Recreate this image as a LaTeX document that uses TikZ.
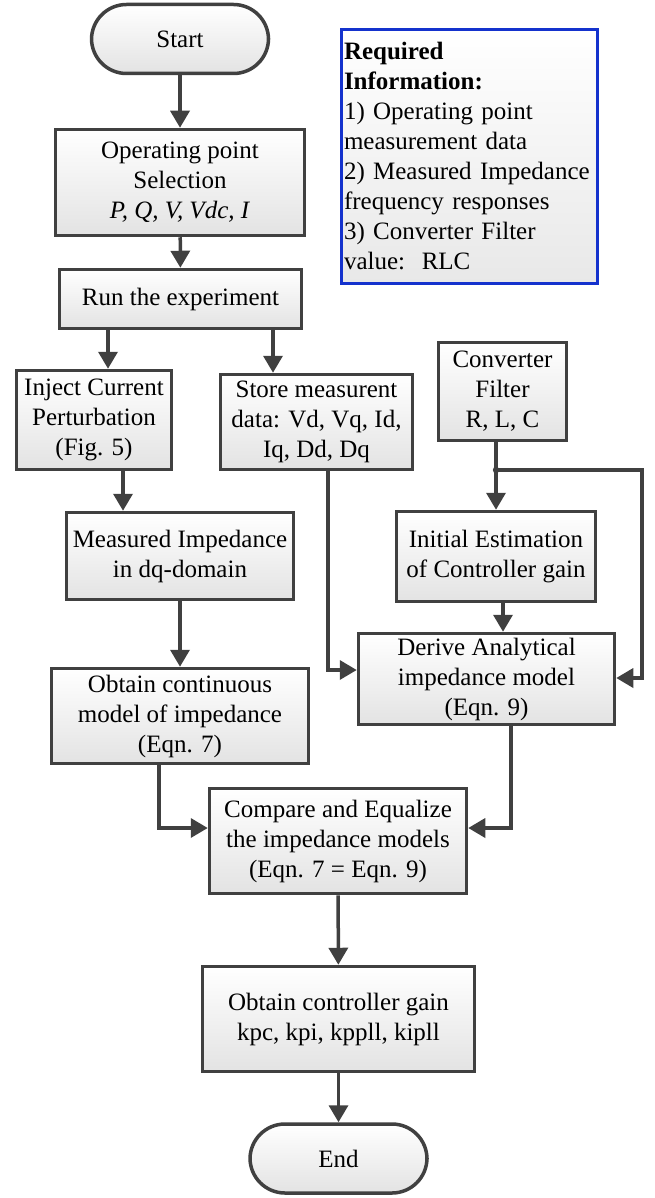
\documentclass[tikz,border=0pt]{standalone}
\usepackage{fontspec}
\setmainfont{Liberation Serif}
\usetikzlibrary{arrows.meta,calc}
\definecolor{edgegray}{RGB}{64,64,64}
\definecolor{infoblue}{RGB}{20,50,205}
\begin{document}
\begin{tikzpicture}[x=1pt,y=-1pt,
  every node/.style={font=\fontsize{25}{30}\selectfont},
  stepbox/.style={draw=edgegray, line width=3.5pt, top color=white, bottom color=black!11,
    align=center, inner sep=2pt, rectangle},
  conn/.style={draw=edgegray, line width=3.5pt},
  arr/.style={conn, -{Triangle[length=17pt,width=19pt]}},
]
\useasboundingbox (0,0) rectangle (655,1198);

% terminals (drawn as rounded rectangles)
\node[stepbox, rounded corners=35pt, minimum width=177pt, minimum height=69pt] (start) at (180,39) {Start};
\node[stepbox, rounded corners=35pt, minimum width=177pt, minimum height=69pt] (end) at (338.5,1158.5) {End};

% process boxes
\node[stepbox, minimum width=249pt, minimum height=106pt] (op) at (180,182.5)
  {Operating point\\Selection\\\textit{P, Q, V, Vdc, I}};
\node[stepbox, minimum width=242pt, minimum height=59pt] (run) at (180.5,299) {Run the experiment};
\node[stepbox, minimum width=155pt, minimum height=99pt] (inject) at (94,420)
  {Inject Current\\Perturbation\\(Fig. 5)};
\node[stepbox, minimum width=192pt, minimum height=95pt] (store) at (316.5,422)
  {Store measurent\\data: Vd, Vq, Id,\\Iq, Dd, Dq};
\node[stepbox, minimum width=128pt, minimum height=98pt] (conv) at (502.5,391.5)
  {Converter\\Filter\\R, L, C};
\node[stepbox, minimum width=227pt, minimum height=87pt] (meas) at (180,556)
  {Measured Impedance\\in dq-domain};
\node[stepbox, minimum width=199pt, minimum height=90pt] (init) at (496,556.5)
  {Initial Estimation\\of Controller gain};
\node[stepbox, minimum width=257pt, minimum height=95pt] (cont) at (180,716)
  {Obtain continuous\\model of impedance\\(Eqn. 7)};
\node[stepbox, minimum width=256pt, minimum height=91pt] (derive) at (486.5,679)
  {Derive Analytical\\impedance model\\(Eqn. 9)};
\node[stepbox, minimum width=257pt, minimum height=105pt] (cmp) at (338,841)
  {Compare and Equalize\\the impedance models\\(Eqn. 7 = Eqn. 9)};
\node[stepbox, minimum width=272pt, minimum height=105pt] (gain) at (338.5,1019)
  {Obtain controller gain\\kpc, kpi, kppll, kipll};

% information box
\node[draw=infoblue, line width=3pt, top color=white, bottom color=black!9,
  minimum width=253pt, minimum height=254pt, align=left, text width=250pt,
  inner xsep=3pt, inner ysep=3pt]
  (info) at (469,156.5)
  {\textbf{Required}\\\textbf{Information:}\\1) Operating point\\measurement data\\2)~Measured~Impedance\\frequency responses\\3) Converter Filter\\value:\ \ RLC};

% helper coordinates
\coordinate (xa) at (108,0);
\coordinate (xb) at (273,0);
\coordinate (xc) at (123,0);
\coordinate (xd) at (496,0);
\coordinate (xe) at (503,0);
\coordinate (xf) at (328,0);
\coordinate (xg) at (159,0);
\coordinate (xh) at (511,0);
\coordinate (jn) at (496,470);
\coordinate (rt) at (642,470);
\coordinate (rb) at (642,678);
\coordinate (sb) at (328,670);
\coordinate (cl) at (159,828);
\coordinate (dr) at (511,828);

% connectors
\draw[arr] (start) -- (op);
\draw[arr] (op) -- (run);
\draw[arr] (run.south -| xa) -- (inject.north -| xa);
\draw[arr] (run.south -| xb) -- (store.north -| xb);
\draw[arr] (inject.south -| xc) -- (meas.north -| xc);
\draw[arr] (meas) -- (cont);
\draw[conn] (conv.south -| xd) -- (jn);
\draw[arr] (jn) -- (init.north -| xd);
\draw[arr] (jn) -- (rt) -- (rb) -- (derive.east |- rb);
\fill[edgegray] (jn) circle (3.2pt);
\draw[arr] (store.south -| xf) -- (sb) -- (derive.west |- sb);
\draw[arr] (init.south -| xe) -- (derive.north -| xe);
\draw[arr] (cont.south -| xg) -- (cl) -- (cmp.west |- cl);
\draw[arr] (derive.south -| xh) -- (dr) -- (cmp.east |- dr);
\draw[arr] (cmp) -- (gain);
\draw[arr] (gain) -- (end);
\end{tikzpicture}
\end{document}
